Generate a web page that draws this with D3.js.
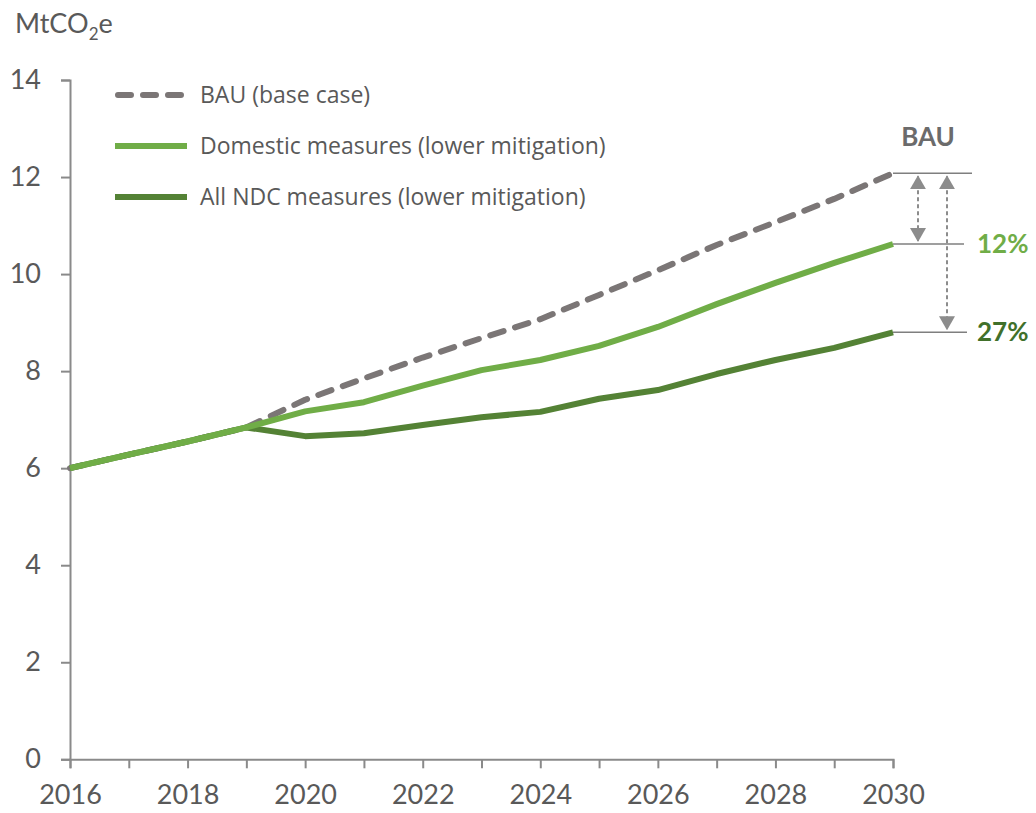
<!DOCTYPE html>
<html>
<head>
<meta charset="utf-8">
<script src="https://cdn.jsdelivr.net/npm/d3@7"></script>
<style>
  html, body { margin: 0; padding: 0; background: #fff; }
  svg { display: block; font-family: Lato, "Open Sans", sans-serif; }
</style>
</head>
<body>
<svg id="chart" width="1036" height="813"></svg>
<script>
// Emissions pathways, MtCO2e
const years = [2016, 2017, 2018, 2019, 2020, 2021, 2022, 2023, 2024, 2025, 2026, 2027, 2028, 2029, 2030];
const bau      = [6.00, 6.28, 6.55, 6.84, 7.41, 7.85, 8.28, 8.68, 9.07, 9.57, 10.08, 10.60, 11.07, 11.55, 12.08];
const domestic = [6.00, 6.28, 6.55, 6.84, 7.17, 7.36, 7.70, 8.02, 8.23, 8.52, 8.91, 9.38, 9.82, 10.23, 10.62];
const ndc      = [6.00, 6.28, 6.55, 6.84, 6.66, 6.72, 6.89, 7.05, 7.16, 7.43, 7.61, 7.94, 8.23, 8.48, 8.80];
const yTicks = [0, 2, 4, 6, 8, 10, 12, 14];
const xLabelYears = [2016, 2018, 2020, 2022, 2024, 2026, 2028, 2030];

const seriesNames = ["BAU (base case)", "Domestic measures (lower mitigation)", "All NDC measures (lower mitigation)"];
const colors = { bau: "#7b7676", domestic: "#70ad47", ndc: "#548235", ndcText: "#41702a", axis: "#8a8a8a", text: "#595959", note: "#8c8c8c" };

const svg = d3.select("#chart");
const x = d3.scaleLinear().domain([2016, 2030]).range([70, 893]);
const y = d3.scaleLinear().domain([0, 14]).range([759.3, 80]);

// Axes
const yAxis = svg.append("g").attr("transform", "translate(70,0)")
  .call(d3.axisLeft(y).tickValues(yTicks).tickSize(9).tickPadding(20).tickFormat(d3.format("d")));
const xAxis = svg.append("g").attr("transform", `translate(0,${y(0)})`)
  .call(d3.axisBottom(x).tickValues(years).tickSize(9).tickPadding(14)
    .tickFormat(d => xLabelYears.includes(d) ? String(d) : ""));

[yAxis, xAxis].forEach(g => {
  g.select(".domain").attr("stroke", colors.axis).attr("stroke-width", 2);
  g.selectAll(".tick line").attr("stroke", colors.axis).attr("stroke-width", 2);
  g.selectAll(".tick text").attr("fill", colors.text).attr("font-size", 27)
    .attr("font-family", "Lato, sans-serif");
});
xAxis.selectAll(".tick text").attr("dy", "0.82em");

// Unit label
const unit = svg.append("text").attr("x", 15).attr("y", 33).attr("fill", colors.text).attr("font-size", 27);
unit.append("tspan").text("MtCO");
unit.append("tspan").attr("font-size", 17).attr("dy", 7).text("2");
unit.append("tspan").attr("dy", -7).text("e");

// Series lines
const line = d3.line().x((d, i) => x(years[i])).y(d => y(d));
const series = [
  { key: "bau", values: bau, color: colors.bau, dash: "14,12" },
  { key: "ndc", values: ndc, color: colors.ndc, dash: null },
  { key: "domestic", values: domestic, color: colors.domestic, dash: null }
];
series.forEach(s => {
  svg.append("path").datum(s.values)
    .attr("d", line).attr("fill", "none")
    .attr("stroke", s.color).attr("stroke-width", 6)
    .attr("stroke-linejoin", "round")
    .attr("stroke-linecap", s.dash ? "round" : "butt")
    .attr("stroke-dasharray", s.dash);
});

// Legend
const legend = [
  { name: seriesNames[0], color: colors.bau, dash: "13,12", cy: 95 },
  { name: seriesNames[1], color: colors.domestic, dash: null, cy: 146 },
  { name: seriesNames[2], color: colors.ndc, dash: null, cy: 197 }
];
legend.forEach(l => {
  svg.append("line").attr("x1", l.dash ? 118 : 115).attr("x2", l.dash ? 184 : 187)
    .attr("y1", l.cy).attr("y2", l.cy)
    .attr("stroke", l.color).attr("stroke-width", 6)
    .attr("stroke-linecap", l.dash ? "round" : "butt")
    .attr("stroke-dasharray", l.dash);
  svg.append("text").attr("x", 200).attr("y", l.cy + 8).attr("fill", colors.text)
    .attr("font-family", "'Open Sans', sans-serif")
    .attr("font-size", 23).text(l.name);
});

// 2030 reduction annotation
const last = years.length - 1;
const bauEnd = bau[last], domEnd = domestic[last], ndcEnd = ndc[last];
const pct = v => Math.round((1 - v / bauEnd) * 100) + "%";

const defs = svg.append("defs");
defs.append("marker").attr("id", "head").attr("viewBox", "0 0 14 16")
  .attr("refX", 13).attr("refY", 8).attr("markerWidth", 14).attr("markerHeight", 16)
  .attr("markerUnits", "userSpaceOnUse").attr("orient", "auto-start-reverse")
  .append("path").attr("d", "M0,0 L14,8 L0,16 Z").attr("fill", colors.note);

const refs = [
  { v: bauEnd, x2: 972 },
  { v: domEnd, x2: 964 },
  { v: ndcEnd, x2: 967 }
];
refs.forEach(r => {
  svg.append("line").attr("x1", x(2030)).attr("x2", r.x2)
    .attr("y1", y(r.v)).attr("y2", y(r.v))
    .attr("stroke", "#7f7f7f").attr("stroke-width", 1.5);
});

[{ cx: 918, v: domEnd }, { cx: 947, v: ndcEnd }].forEach(a => {
  svg.append("line").attr("x1", a.cx).attr("x2", a.cx)
    .attr("y1", y(bauEnd) + 3).attr("y2", y(a.v) - 3)
    .attr("stroke", colors.note).attr("stroke-width", 2)
    .attr("stroke-dasharray", "4,3")
    .attr("marker-start", "url(#head)").attr("marker-end", "url(#head)");
});

svg.append("text").attr("x", 928).attr("y", 146).attr("text-anchor", "middle")
  .attr("fill", "#6b6b6b").attr("font-size", 26).attr("font-weight", "bold").text("BAU");
svg.append("text").attr("x", 977).attr("y", y(domEnd) + 9)
  .attr("fill", colors.domestic).attr("font-size", 26).attr("font-weight", "bold").text(pct(domEnd));
svg.append("text").attr("x", 977).attr("y", y(ndcEnd) + 9)
  .attr("fill", colors.ndcText).attr("font-size", 26).attr("font-weight", "bold").text(pct(ndcEnd));
</script>
</body>
</html>
